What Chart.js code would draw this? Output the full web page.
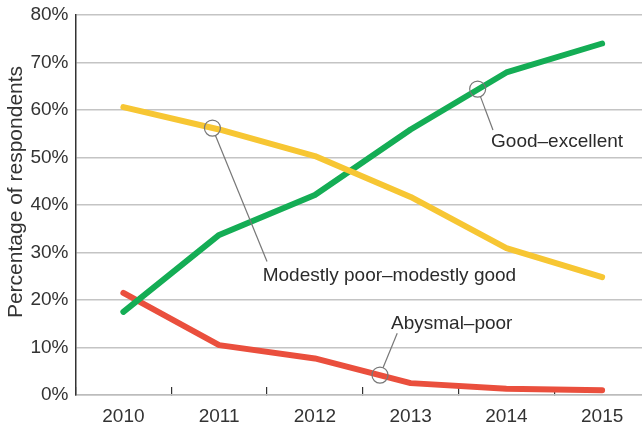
<!DOCTYPE html>
<html>
<head>
<meta charset="utf-8">
<script src="https://cdn.jsdelivr.net/npm/chart.js@4"></script>
<style>
    html, body { margin: 0; padding: 0; background: #fff; overflow: hidden; }
    #wrap { width: 650px; height: 425px; }
</style>
</head>
<body>
<div id="wrap"><canvas id="chart" width="650" height="425"></canvas></div>
<script>
const years = ['2010', '2011', '2012', '2013', '2014', '2015'];
const goodExcellent = [17.5, 33.7, 42.1, 55.9, 67.9, 74.0];
const modestly = [60.6, 55.9, 50.3, 41.7, 30.9, 24.8];
const abysmalPoor = [21.5, 10.5, 7.7, 2.5, 1.3, 1.0];
const yTicks = [0, 10, 20, 30, 40, 50, 60, 70, 80];
const yTitle = 'Percentage of respondents';

// callouts: circle on the line (category index, value) and label anchor
const calloutText = ['Modestly poor\u2013modestly good', 'Good\u2013excellent', 'Abysmal\u2013poor'];
const calloutAt = [[0.93, 56.2], [3.70, 64.4], [2.68, 4.2]];
const calloutEnd = [[1.50, 28.1], [3.86, 55.8], [2.86, 13.0]];
const calloutLabel = [[1.455, 25.0], [3.84, 53.3], [2.795, 15.1]];

const font = "'Liberation Sans', Arial, sans-serif";

const calloutPlugin = {
    id: 'callouts',
    afterDatasetsDraw(chart) {
        const ctx = chart.ctx;
        const x = chart.scales.x;
        const y = chart.scales.y;
        ctx.save();
        calloutText.forEach((text, i) => {
            const cx = x.getPixelForValue(calloutAt[i][0]);
            const cy = y.getPixelForValue(calloutAt[i][1]);
            const ex = x.getPixelForValue(calloutEnd[i][0]);
            const ey = y.getPixelForValue(calloutEnd[i][1]);
            const r = 8;
            const ang = Math.atan2(ey - cy, ex - cx);
            ctx.strokeStyle = '#777';
            ctx.lineWidth = 1.2;
            ctx.beginPath();
            ctx.arc(cx, cy, r, 0, Math.PI * 2);
            ctx.stroke();
            ctx.beginPath();
            ctx.moveTo(cx + r * Math.cos(ang), cy + r * Math.sin(ang));
            ctx.lineTo(ex, ey);
            ctx.stroke();
            ctx.fillStyle = '#2b2b2b';
            ctx.font = '19px ' + font;
            ctx.textAlign = 'left';
            ctx.textBaseline = 'middle';
            ctx.fillText(text, x.getPixelForValue(calloutLabel[i][0]), y.getPixelForValue(calloutLabel[i][1]));
        });

        // y axis title, sits a bit above the middle of the axis
        ctx.translate(16, (chart.chartArea.top + chart.chartArea.bottom) / 2 - 13);
        ctx.rotate(-Math.PI / 2);
        ctx.fillStyle = '#333';
        ctx.font = '21px ' + font;
        ctx.textAlign = 'center';
        ctx.textBaseline = 'middle';
        ctx.fillText(yTitle, 0, 0);
        ctx.restore();
    }
};

function lineSet(data, color) {
    return {
        data: data,
        borderColor: color,
        backgroundColor: color,
        borderWidth: 6,
        pointRadius: 0,
        tension: 0,
        borderCapStyle: 'round',
        borderJoinStyle: 'round'
    };
}

new Chart(document.getElementById('chart'), {
    type: 'line',
    data: {
        labels: years,
        datasets: [
            lineSet(modestly, '#f7c633'),
            lineSet(goodExcellent, '#14ad55'),
            lineSet(abysmalPoor, '#ea4f3d')
        ]
    },
    plugins: [calloutPlugin],
    options: {
        responsive: false,
        animation: false,
        layout: { padding: { top: 0, right: 0, bottom: 0, left: 0 } },
        plugins: { legend: { display: false }, tooltip: { enabled: false } },
        scales: {
            x: {
                offset: true,
                afterFit: axis => { axis.height = 30; },
                grid: {
                    offset: true,
                    drawOnChartArea: false,
                    color: '#333',
                    lineWidth: 1.2,
                    tickLength: -8
                },
                border: { color: '#bcbcbc', width: 1.5 },
                ticks: {
                    color: '#333',
                    padding: 18,
                    font: { family: font, size: 19 }
                }
            },
            y: {
                min: 0,
                max: 80,
                afterBuildTicks: axis => { axis.ticks = yTicks.map(v => ({ value: v })); },
                afterFit: axis => {
                    axis.width = 75.5;
                    axis.paddingTop = 15;
                    axis.paddingBottom = 0;
                },
                grid: { color: '#c4c4c4', lineWidth: 1.5, drawTicks: false },
                border: { color: '#333', width: 1.5 },
                ticks: {
                    color: '#333',
                    padding: 7,
                    font: { family: font, size: 19 },
                    callback: v => v + '%'
                }
            }
        }
    }
});
</script>
</body>
</html>
